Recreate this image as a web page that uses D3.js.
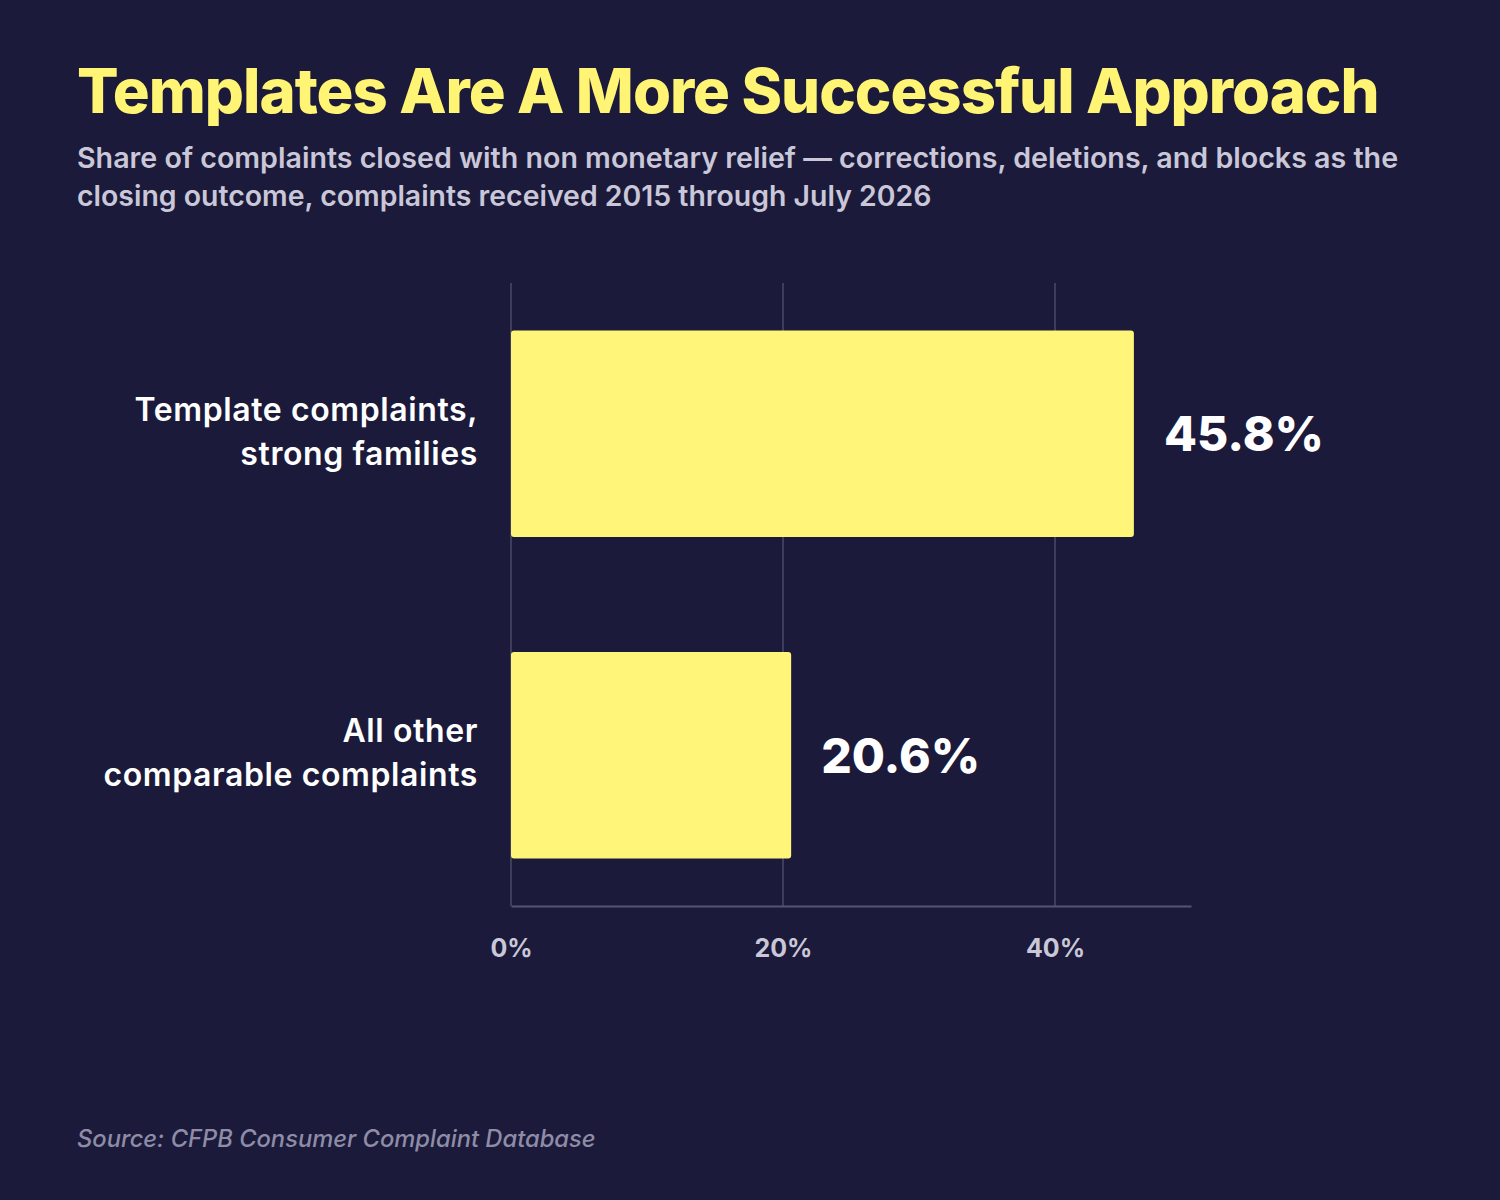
<!DOCTYPE html>
<html>
<head>
<meta charset="utf-8">
<script src="https://cdn.jsdelivr.net/npm/d3@7"></script>
<style>
  body { margin: 0; background: #1b1a3a; }
  svg { display: block; }
  text { font-family: Inter, "Open Sans", sans-serif; }
</style>
</head>
<body>
<div id="chart"></div>
<script>
// data
var categories = [["Template complaints,", "strong families"], ["All other", "comparable complaints"]];
var values = [45.8, 20.6];
var tickValues = [0, 20, 40];

var titleText = "Templates Are A More Successful Approach";
var subtitleLines = [
  "Share of complaints closed with non monetary relief \u2014 corrections, deletions, and blocks as the",
  "closing outcome, complaints received 2015 through July 2026"
];
var sourceText = "Source: CFPB Consumer Complaint Database";

// set the dimensions and margins of the graph
var W = 1500, H = 1200;
var margin = {top: 283, right: 309, bottom: 294, left: 511},
    width = W - margin.left - margin.right,
    height = H - margin.top - margin.bottom;

var svg = d3.select("#chart")
  .append("svg")
    .attr("width", W)
    .attr("height", H);

svg.append("rect")
  .attr("width", W)
  .attr("height", H)
  .attr("fill", "#1b1a3a");

// scale font size so the text spans a given width
function fit(sel, target) {
  var len = sel.node().getComputedTextLength();
  var fs = parseFloat(sel.style("font-size"));
  sel.style("font-size", (fs * target / len) + "px");
  return sel;
}

// title + subtitle
var title = svg.append("text")
  .attr("x", 77)
  .attr("y", 113)
  .attr("fill", "#fff473")
  .style("font-weight", 800)
  .style("letter-spacing", "-1px")
  .style("font-size", "60px")
  .text(titleText);
fit(title, 1301);

var subY = [168, 206];
var subW = [1322, 855];
subtitleLines.forEach(function(line, i) {
  var t = svg.append("text")
    .attr("x", 77)
    .attr("y", subY[i])
    .attr("fill", "#c9c7d8")
    .style("font-weight", 600)
    .style("font-size", "25px")
    .text(line);
  fit(t, subW[i]);
});

var g = svg.append("g")
  .attr("transform", "translate(" + margin.left + "," + margin.top + ")");

// scales
var x = d3.scaleLinear()
  .domain([0, 50])
  .range([0, width]);

var y = d3.scaleBand()
  .domain(d3.range(values.length))
  .range([0, height])
  .paddingInner(0.358)
  .paddingOuter(0.148);

// gridlines
g.append("g")
  .selectAll("line")
  .data(tickValues)
  .enter()
  .append("line")
    .attr("x1", function(d) { return x(d); })
    .attr("x2", function(d) { return x(d); })
    .attr("y1", 0)
    .attr("y2", height)
    .attr("stroke", "#4b4a68")
    .attr("stroke-width", 1.5);

// x axis
var xAxis = d3.axisBottom(x)
  .tickValues(tickValues)
  .tickSize(0)
  .tickPadding(33)
  .tickFormat(function(d) { return d + "%"; });

var axisG = g.append("g")
  .attr("transform", "translate(0," + height + ")")
  .call(xAxis);
axisG.select(".domain")
  .attr("stroke", "#56556f")
  .attr("stroke-width", 2);
axisG.selectAll(".tick text")
  .attr("fill", "#c9c7d8")
  .style("font-family", "Inter, sans-serif")
  .style("font-weight", 700)
  .style("font-size", "25px");

// bars
g.selectAll(".bar")
  .data(values)
  .enter()
  .append("rect")
    .attr("class", "bar")
    .attr("x", x(0))
    .attr("y", function(d, i) { return y(i); })
    .attr("width", function(d) { return x(d) - x(0); })
    .attr("height", y.bandwidth())
    .attr("rx", 3)
    .attr("fill", "#fff578");

// value labels
g.selectAll(".val")
  .data(values)
  .enter()
  .append("text")
    .attr("class", "val")
    .attr("x", function(d) { return x(d) + 30; })
    .attr("y", function(d, i) { return y(i) + y.bandwidth() / 2; })
    .attr("dy", "0.36em")
    .attr("fill", "#ffffff")
    .style("font-weight", 800)
    .style("font-size", "48px")
    .text(function(d) { return d.toFixed(1) + "%"; });

// category labels
var cat = g.selectAll(".cat")
  .data(categories)
  .enter()
  .append("text")
    .attr("class", "cat")
    .attr("text-anchor", "end")
    .attr("fill", "#ffffff")
    .style("font-weight", 600)
    .style("font-size", "32px")
    .style("letter-spacing", "0.6px")
    .attr("transform", function(d, i) {
      return "translate(-33," + (y(i) + y.bandwidth() / 2) + ")";
    });

cat.selectAll("tspan")
  .data(function(d) { return d; })
  .enter()
  .append("tspan")
    .attr("x", 0)
    .attr("y", function(d, j) { return j === 0 ? -13 : 31; })
    .text(function(d) { return d; });

// source
var src = svg.append("text")
  .attr("x", 77)
  .attr("y", 1147)
  .attr("fill", "#8e8ca6")
  .style("font-style", "italic")
  .style("font-weight", 500)
  .style("font-size", "22px")
  .text(sourceText);
fit(src, 519);
</script>
</body>
</html>
